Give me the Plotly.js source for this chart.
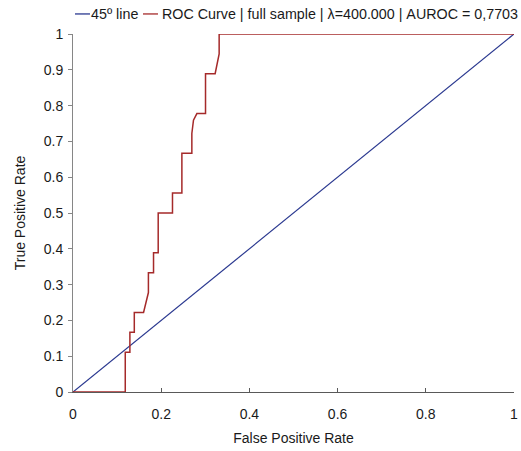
<!DOCTYPE html>
<html>
<head>
<meta charset="utf-8">
<script src="https://cdn.plot.ly/plotly-3.0.1.min.js"></script>
<style>html,body{margin:0;padding:0;background:#fff;}#chart{width:521px;height:451px;}</style>
</head>
<body>
<div id="chart"></div>
<script>
// 45-degree reference line
const diagX = [0, 1];
const diagY = [0, 1];
// ROC curve (False Positive Rate, True Positive Rate)
const rocFPR = [0, 0.1185, 0.1185, 0.129, 0.129, 0.139, 0.139, 0.160, 0.171, 0.171, 0.1826, 0.1826, 0.1932, 0.1932, 0.2256, 0.2256, 0.2469, 0.2469, 0.2695, 0.2695, 0.2732, 0.2809, 0.3005, 0.3005, 0.3223, 0.3314, 0.3314, 1];
const rocTPR = [0, 0, 0.1111, 0.1111, 0.1667, 0.1667, 0.2222, 0.2222, 0.2778, 0.3333, 0.3333, 0.3889, 0.3889, 0.5, 0.5, 0.5556, 0.5556, 0.6667, 0.6667, 0.7222, 0.759, 0.7778, 0.7778, 0.8889, 0.8889, 0.9444, 1, 1];
const seriesNames = ['45º line', 'ROC Curve | full sample | λ=400.000 | AUROC = 0,7703'];
const seriesColors = ['#2B3990', '#A52A2A'];
const yTickVals = [0, 0.1, 0.2, 0.3, 0.4, 0.5, 0.6, 0.7, 0.8, 0.9, 1];
const yTickText = ['0', '0.1', '0.2', '0.3', '0.4', '0.5', '0.6', '0.7', '0.8', '0.9', '1'];
const xTickVals = [0, 0.2, 0.4, 0.6, 0.8, 1];
const xTickText = ['0', '0.2', '0.4', '0.6', '0.8', '1'];

const font = 'Liberation Sans, Arial, sans-serif';

const traces = [
  {x: diagX, y: diagY, mode: 'lines', name: seriesNames[0], line: {color: seriesColors[0], width: 1.2}, showlegend: false, hoverinfo: 'skip'},
  {x: rocFPR, y: rocTPR, mode: 'lines', name: seriesNames[1], line: {color: seriesColors[1], width: 1.5}, showlegend: false}
];

// hand-made legend row: short line sample + label for each series
const legendY = 1.056;
const legendItems = [
  {x0: 0.0045, x1: 0.0385, tx: 0.0385},
  {x0: 0.1587, x1: 0.1927, tx: 0.2005}
];
const shapes = legendItems.map((it, i) => ({
  type: 'line', xref: 'paper', yref: 'paper', x0: it.x0, x1: it.x1, y0: legendY, y1: legendY,
  line: {color: seriesColors[i], width: 1.3}
}));
const annotations = legendItems.map((it, i) => ({
  xref: 'paper', yref: 'paper', x: it.tx, y: legendY, xanchor: 'left', yanchor: 'middle',
  text: seriesNames[i], showarrow: false, borderpad: 0,
  font: {size: 14.3, family: font, color: '#1a1a1a'}
}));

const layout = {
  width: 521, height: 451,
  margin: {l: 73, r: 7, t: 34, b: 58.5},
  paper_bgcolor: '#fff', plot_bgcolor: '#fff',
  font: {family: font, size: 14, color: '#1a1a1a'},
  xaxis: {
    range: [0, 1], tickvals: xTickVals, ticktext: xTickText,
    showgrid: false, zeroline: false, showline: true, linecolor: '#595959', linewidth: 1,
    ticks: 'inside', ticklen: 4, tickcolor: '#595959', ticklabelstandoff: 9,
    title: {text: 'False Positive Rate', font: {size: 14, family: font}, standoff: 12}
  },
  yaxis: {
    range: [0, 1], tickvals: yTickVals, ticktext: yTickText,
    showgrid: false, zeroline: false, showline: true, linecolor: '#868686', linewidth: 1,
    ticks: 'outside', ticklen: 4, tickcolor: '#868686', ticklabelstandoff: 2,
    title: {text: 'True Positive Rate', font: {size: 14, family: font}, standoff: 14}
  },
  shapes: shapes,
  annotations: annotations
};

Plotly.newPlot('chart', traces, layout, {displayModeBar: false, staticPlot: true});
</script>
</body>
</html>
